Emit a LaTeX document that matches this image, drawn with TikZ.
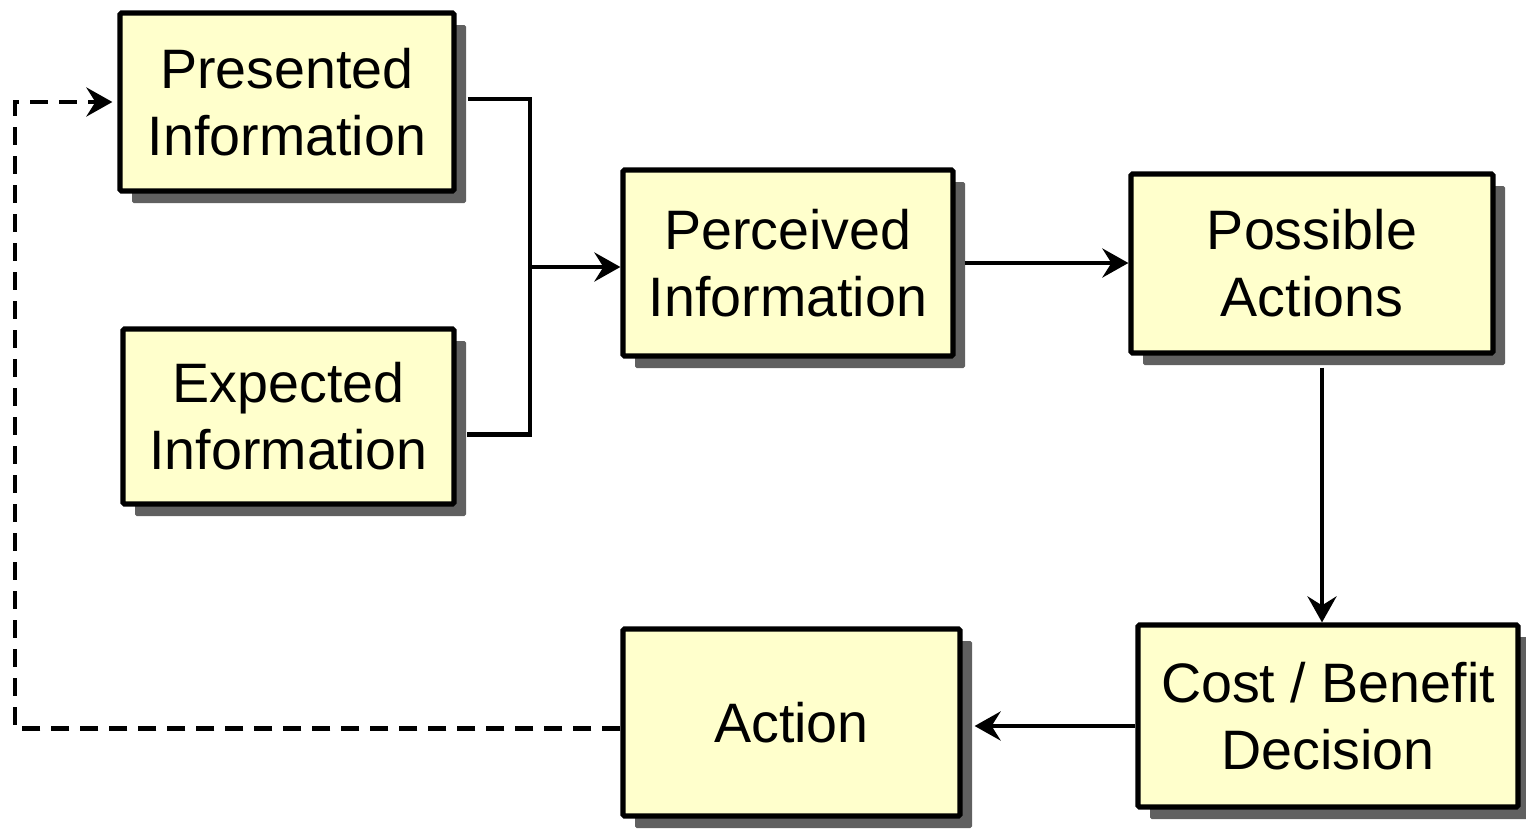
\documentclass[tikz,border=0pt]{standalone}
\usepackage{fontspec}
\setmainfont{Liberation Sans}
\usetikzlibrary{arrows.meta,shadows}
\definecolor{boxfill}{RGB}{255,255,204}
\definecolor{shadowgray}{RGB}{96,96,96}
\tikzset{
  stagebox/.style={draw=black, line width=2.6pt, fill=boxfill, rounded corners=0.8pt,
    align=center, inner sep=0pt,
    font=\fontsize{27.8}{33.5}\selectfont,
    drop shadow={shadow xshift=6pt, shadow yshift=-6pt, fill=shadowgray, opacity=1}},
  link/.style={draw=black, line width=2.2pt},
  arr/.style={link, -{Stealth[length=13pt, width=14.5pt, inset=4.5pt]}},
  dashlink/.style={arr, dash pattern=on 9pt off 5.5pt},
}
\begin{document}
\begin{tikzpicture}[x=0.5pt, y=-0.5pt]
\useasboundingbox (0,0) rectangle (1526,830);
\node[stagebox, minimum width=167pt, minimum height=89pt] (p) at (287,102) {Presented\\Information};
\node[stagebox, minimum width=165.5pt, minimum height=87.5pt] (e) at (288.5,416.5) {Expected\\Information};
\node[stagebox, minimum width=165pt, minimum height=93pt] (pc) at (788,263) {Perceived\\Information};
\node[stagebox, minimum width=181pt, minimum height=89.5pt] (pa) at (1312,263.5) {Possible\\Actions};
\node[stagebox, minimum width=190pt, minimum height=91pt] (cb) at (1328,716) {Cost / Benefit\\Decision};
\node[stagebox, minimum width=168.5pt, minimum height=93.5pt] (ac) at (791.5,722.5) {Action};

\coordinate (j) at (530,267);
\coordinate (loop) at (15,102);
\coordinate (acr) at ([xshift=6pt]ac.east);

\draw[link] ([xshift=5.5pt,yshift=1.5pt]p.east) -| (j) |- ([xshift=5pt,yshift=-9pt]e.east);
\draw[arr] (j) -- (j -| pc.west);
\draw[arr] ([xshift=4.5pt]pc.east) -- (pc.east -| pa.west);
\draw[arr] ([xshift=5pt,yshift=-6pt]pa.south) -- ([xshift=-3pt]cb.north);
\draw[arr] ([yshift=-5pt]cb.west) -- ([yshift=-5pt]cb.west -| acr);
\draw[dashlink] ([yshift=-3pt]ac.west) -| (loop) -- ([xshift=-2.5pt]p.west);
\end{tikzpicture}
\end{document}
